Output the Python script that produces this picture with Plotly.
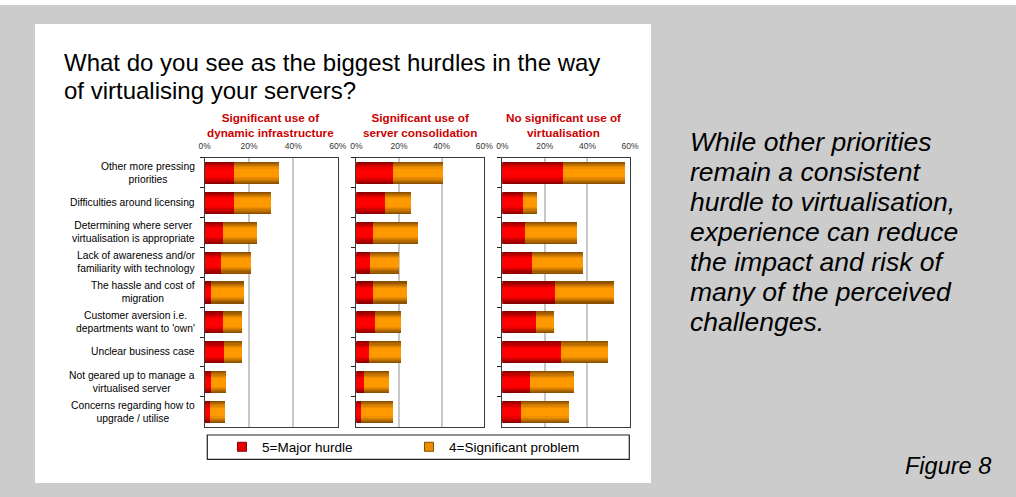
import plotly.graph_objects as go

# ---- data (percent of respondents) ----
hurdles = [
    "Other more pressing<br>priorities",
    "Difficulties around licensing",
    "Determining where server<br>virtualisation is appropriate",
    "Lack of awareness and/or<br>familiarity with technology",
    "The hassle and cost of<br>migration",
    "Customer aversion i.e.<br>departments want to 'own'",
    "Unclear business case",
    "Not geared up to manage a<br>virtualised server",
    "Concerns regarding how to<br>upgrade / utilise",
]

segment_titles = [
    "Significant use of<br>dynamic infrastructure",
    "Significant use of<br>server consolidation",
    "No significant use of<br>virtualisation",
]

series_names = ["5=Major hurdle", "4=Significant problem"]

major_dynamic = [13.2, 13.2, 8.3, 7.4, 2.9, 8.3, 8.7, 2.9, 2.4]
significant_dynamic = [20.3, 16.7, 15.3, 13.5, 14.8, 8.5, 8.1, 6.7, 6.8]

major_consolidation = [17.2, 13.4, 7.8, 6.4, 7.8, 8.8, 5.9, 3.6, 2.2]
significant_consolidation = [23.4, 12.2, 21.1, 13.6, 16.0, 12.1, 15.0, 11.7, 15.0]

major_none = [28.5, 9.7, 10.7, 13.9, 24.8, 15.8, 27.6, 13.0, 8.8]
significant_none = [29.2, 6.6, 24.4, 24.0, 27.7, 8.5, 22.1, 20.7, 22.5]

x_ticks = [0, 20, 40, 60]
x_tick_labels = ["0%", "20%", "40%", "60%"]

panels = [
    (major_dynamic, significant_dynamic),
    (major_consolidation, significant_consolidation),
    (major_none, significant_none),
]

# ---- layout geometry (pixels) ----
W, H = 1016, 497
FONT = "Liberation Sans, Arial, sans-serif"


def px(x):
    return x / W


def py(y):
    return 1 - y / H


panel_x = [(204.7, 337.7), (356.3, 484.3), (502.3, 630.0)]
panel_y = (157.7, 426.7)
header_cx = [270, 419.5, 563]

# colour ramps: edge (dark) -> centre (bright), for the cylinder shading
RED_DARK, RED_BRIGHT = (128, 0, 0), (255, 0, 0)
ORA_DARK, ORA_BRIGHT = (128, 72, 0), (255, 153, 0)
BAR_WIDTH = 0.74
BANDS = [1.0, 0.9, 0.8, 0.7, 0.6, 0.5, 0.4, 0.32]


def mix(c0, c1, f):
    return "rgb(%d,%d,%d)" % tuple(round(a + (b - a) * f) for a, b in zip(c0, c1))


def shade(t):
    # 0 -> bright, 1 -> dark; flat bright core in the middle
    if t <= 0.35:
        return 0.0
    return min(1.0, (t - 0.35) / 0.65) ** 1.1


fig = go.Figure()

for i, (major, signif) in enumerate(panels):
    xa = "x" if i == 0 else "x%d" % (i + 1)
    ya = "y" if i == 0 else "y%d" % (i + 1)
    for k, t in enumerate(BANDS):
        t_mid = (t + (BANDS[k + 1] if k + 1 < len(BANDS) else 0)) / 2
        f = shade(t_mid if k + 1 < len(BANDS) else 0)
        fig.add_trace(go.Bar(
            x=major, y=hurdles, base=[0] * len(major), orientation="h",
            width=BAR_WIDTH * t, marker=dict(color=mix(RED_BRIGHT, RED_DARK, f), line=dict(width=0)),
            xaxis=xa, yaxis=ya, showlegend=False, hoverinfo="skip",
        ))
        fig.add_trace(go.Bar(
            x=signif, y=hurdles, base=major, orientation="h",
            width=BAR_WIDTH * t, marker=dict(color=mix(ORA_BRIGHT, ORA_DARK, f), line=dict(width=0)),
            xaxis=xa, yaxis=ya, showlegend=False, hoverinfo="skip",
        ))

# legend keys
for name, col, edge in zip(series_names, ["#e60000", "#f08c00"], ["#800000", "#805000"]):
    fig.add_trace(go.Scatter(
        x=[None], y=[None], mode="markers", name=name,
        marker=dict(symbol="square", size=9, color=col, line=dict(color=edge, width=1)),
        xaxis="x", yaxis="y",
    ))

layout = dict(
    width=W, height=H,
    margin=dict(l=0, r=0, t=0, b=0, pad=0, autoexpand=False),
    paper_bgcolor="#cccccc",
    plot_bgcolor="white",
    barmode="overlay",
    bargap=0,
    font=dict(family=FONT, color="black"),
    showlegend=True,
    legend=dict(
        orientation="h", x=px(222), y=py(447), xanchor="left", yanchor="middle",
        bgcolor="rgba(0,0,0,0)", borderwidth=0,
        font=dict(size=13.5, family=FONT, color="black"),
        entrywidth=142, entrywidthmode="pixels", itemclick=False,
    ),
)

for i in range(3):
    sx = "" if i == 0 else str(i + 1)
    layout["xaxis" + sx] = dict(
        domain=[px(panel_x[i][0]), px(panel_x[i][1])],
        anchor="y" + sx, side="top", range=[0, 60],
        tickvals=x_ticks, ticktext=x_tick_labels,
        tickfont=dict(size=8.5, color="#333333", family=FONT),
        ticks="outside", ticklen=4, tickcolor="rgba(0,0,0,0)",
        showgrid=True, gridcolor="#c8c8c8", gridwidth=1.5,
        showline=True, linecolor="#3a3a3a", linewidth=1.2, mirror=True,
        zeroline=False, fixedrange=True, automargin=False,
    )
    layout["yaxis" + sx] = dict(
        domain=[py(panel_y[1]), py(panel_y[0])],
        anchor="x" + sx, type="category", categoryorder="array",
        categoryarray=hurdles, autorange="reversed",
        showticklabels=False, ticks="outside", tickson="boundaries",
        ticklen=4, tickwidth=1.2, tickcolor="#222222",
        showgrid=False, showline=True, linecolor="#3a3a3a", linewidth=1.2, mirror=True,
        fixedrange=True, automargin=False,
    )

fig.update_layout(**layout)

shapes = [
    # white card
    dict(type="rect", xref="paper", yref="paper", x0=px(35), x1=px(651), y0=py(483), y1=py(24),
         fillcolor="white", line=dict(width=0), layer="below"),
    # thin light strip along the top edge
    dict(type="rect", xref="paper", yref="paper", x0=0, x1=1, y0=py(5), y1=1,
         fillcolor="white", line=dict(width=0), layer="below"),
    # legend frame
    dict(type="rect", xref="paper", yref="paper", x0=px(207.3), x1=px(629.3), y0=py(459.3), y1=py(435),
         fillcolor="rgba(0,0,0,0)", line=dict(color="#222222", width=1.2), layer="above"),
]
fig.update_layout(shapes=shapes)

ann = []
# chart title
for text, yb in [("What do you see as the biggest hurdles in the way", 62),
                 ("of virtualising your servers?", 91)]:
    ann.append(dict(text=text, x=px(62), y=py(yb), xref="paper", yref="paper",
                    xanchor="left", yanchor="middle", showarrow=False,
                    font=dict(size=24, family=FONT, color="black")))

# segment headers
for cx, t in zip(header_cx, segment_titles):
    ann.append(dict(text="<b>" + t + "</b>", x=px(cx), y=py(125), xref="paper", yref="paper",
                    xanchor="center", yanchor="middle", align="center", showarrow=False,
                    font=dict(size=11.7, family=FONT, color="#cc0000")))

# category labels (centred lines, right-aligned block)
for h in hurdles:
    ann.append(dict(text=h, x=px(197), y=h, xref="paper", yref="y",
                    xanchor="right", yanchor="middle", align="center", showarrow=False,
                    font=dict(size=10.3, family=FONT, color="black")))

# commentary
comment = [
    "While other priorities",
    "remain a consistent",
    "hurdle to virtualisation,",
    "experience can reduce",
    "the impact and risk of",
    "many of the perceived",
    "challenges.",
]
for k, line in enumerate(comment):
    ann.append(dict(text="<i>" + line + "</i>", x=px(688), y=py(142 + 30 * k), xref="paper", yref="paper",
                    xanchor="left", yanchor="middle", showarrow=False,
                    font=dict(size=26.5, family=FONT, color="black")))

ann.append(dict(text="<i>Figure 8</i>", x=px(947.5), y=py(466), xref="paper", yref="paper",
                xanchor="center", yanchor="middle", showarrow=False,
                font=dict(size=23.5, family=FONT, color="black")))

fig.update_layout(annotations=ann)

fig.write_html("out.html")
